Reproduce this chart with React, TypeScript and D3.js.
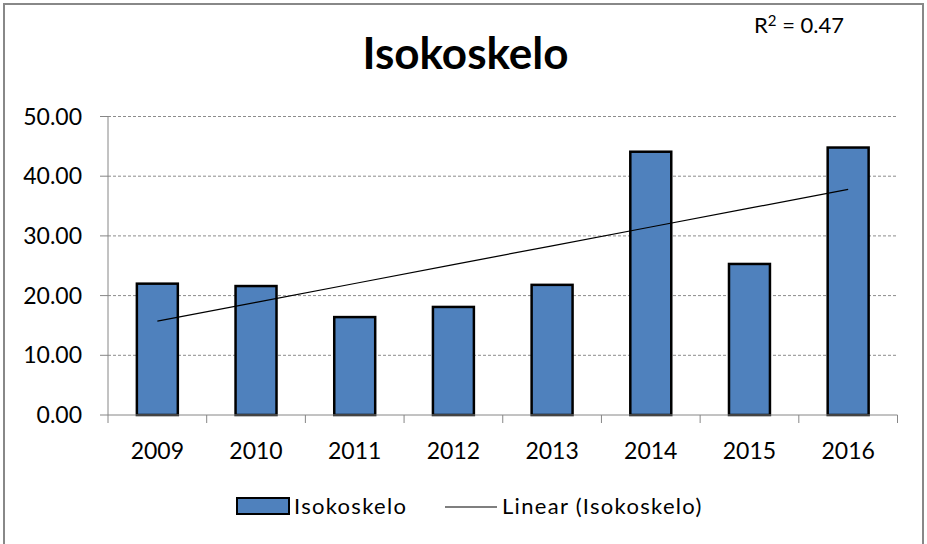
import React from "react";
import * as d3 from "d3";

const years = ["2009", "2010", "2011", "2012", "2013", "2014", "2015", "2016"];
const values = [22.0, 21.6, 16.4, 18.1, 21.8, 44.1, 25.3, 44.8];
const yTicks = [0, 10, 20, 30, 40, 50];
const seriesName = "Isokoskelo";
const r2Value = "0.47";

const W = 927;
const H = 544;
const FONT = "Lato, 'Open Sans', sans-serif";

const App = () => {
  const left = 108;
  const right = 897.5;
  const top = 116.5;
  const bottom = 415;

  const x = d3
    .scaleBand()
    .domain(years)
    .range([left, right])
    .paddingInner(0.585)
    .paddingOuter(0.2925);
  const y = d3.scaleLinear().domain([0, 50]).range([bottom, top]);

  // least-squares trend through the bar values (index as x)
  const idx = values.map((_, i) => i);
  const mx = d3.mean(idx);
  const my = d3.mean(values);
  const slope =
    d3.sum(idx, (i) => (i - mx) * (values[i] - my)) /
    d3.sum(idx, (i) => (i - mx) ** 2);
  const icpt = my - slope * mx;
  const cx = (i) => x(years[i]) + x.bandwidth() / 2;
  const trend = d3
    .line()
    .x((i) => cx(i))
    .y((i) => y(icpt + slope * i));

  const step = (right - left) / years.length;
  const boundaries = d3.range(years.length + 1).map((i) => left + i * step);

  return (
    <svg
      width={W}
      height={H}
      style={{ position: "absolute", left: 0, top: 0, background: "#fff" }}
    >
      <rect x={4} y={4} width={919} height={560} fill="#fff" stroke="#888" strokeWidth={2} />

      <text x={465.5} y={69} textAnchor="middle" fontFamily={FONT} fontWeight="bold" fontSize={44} fill="#000">
        {seriesName}
      </text>
      <text x={754} y={33} fontFamily={FONT} fontSize={22} fill="#000">
        R
        <tspan fontSize={15} dy={-7}>2</tspan>
        <tspan dy={7}>{` = ${r2Value}`}</tspan>
      </text>

      {/* gridlines */}
      {yTicks.slice(1).map((t) => (
        <line key={t} x1={left} x2={right} y1={y(t)} y2={y(t)} stroke="#8c8c8c" strokeWidth={1} strokeDasharray="3,2" />
      ))}

      {/* y axis */}
      <line x1={left} x2={left} y1={top} y2={bottom} stroke="#868686" strokeWidth={1} />
      {yTicks.map((t) => (
        <g key={t}>
          <line x1={left - 8} x2={left} y1={y(t)} y2={y(t)} stroke="#868686" strokeWidth={1} />
          <text x={82} y={y(t) + 8} textAnchor="end" fontFamily={FONT} fontSize={23} fill="#000">
            {t.toFixed(2)}
          </text>
        </g>
      ))}

      {/* bars */}
      {values.map((v, i) => (
        <rect
          key={years[i]}
          x={x(years[i])}
          y={y(v)}
          width={x.bandwidth()}
          height={bottom - y(v)}
          fill="#4F81BD"
          stroke="#000"
          strokeWidth={2.5}
        />
      ))}

      {/* x axis */}
      <line x1={left} x2={right} y1={bottom} y2={bottom} stroke="#868686" strokeWidth={1} />
      {boundaries.map((b, i) => (
        <line key={i} x1={b} x2={b} y1={bottom} y2={bottom + 8} stroke="#868686" strokeWidth={1} />
      ))}
      {years.map((yr, i) => (
        <text key={yr} x={cx(i)} y={459} textAnchor="middle" fontFamily={FONT} fontSize={23} fill="#000">
          {yr}
        </text>
      ))}

      <path d={trend(idx)} fill="none" stroke="#000" strokeWidth={1.2} />

      {/* legend */}
      <rect x={237} y={498} width={52} height={16} fill="#4F81BD" stroke="#000" strokeWidth={2} />
      <text x={294} y={514} fontFamily={FONT} fontSize={22} letterSpacing={1.3} fill="#000">
        {seriesName}
      </text>
      <line x1={445} x2={497} y1={507} y2={507} stroke="#000" strokeWidth={1.2} />
      <text x={502} y={514} fontFamily={FONT} fontSize={22} letterSpacing={1.3} fill="#000">
        {`Linear (${seriesName})`}
      </text>
    </svg>
  );
};

export default App;
